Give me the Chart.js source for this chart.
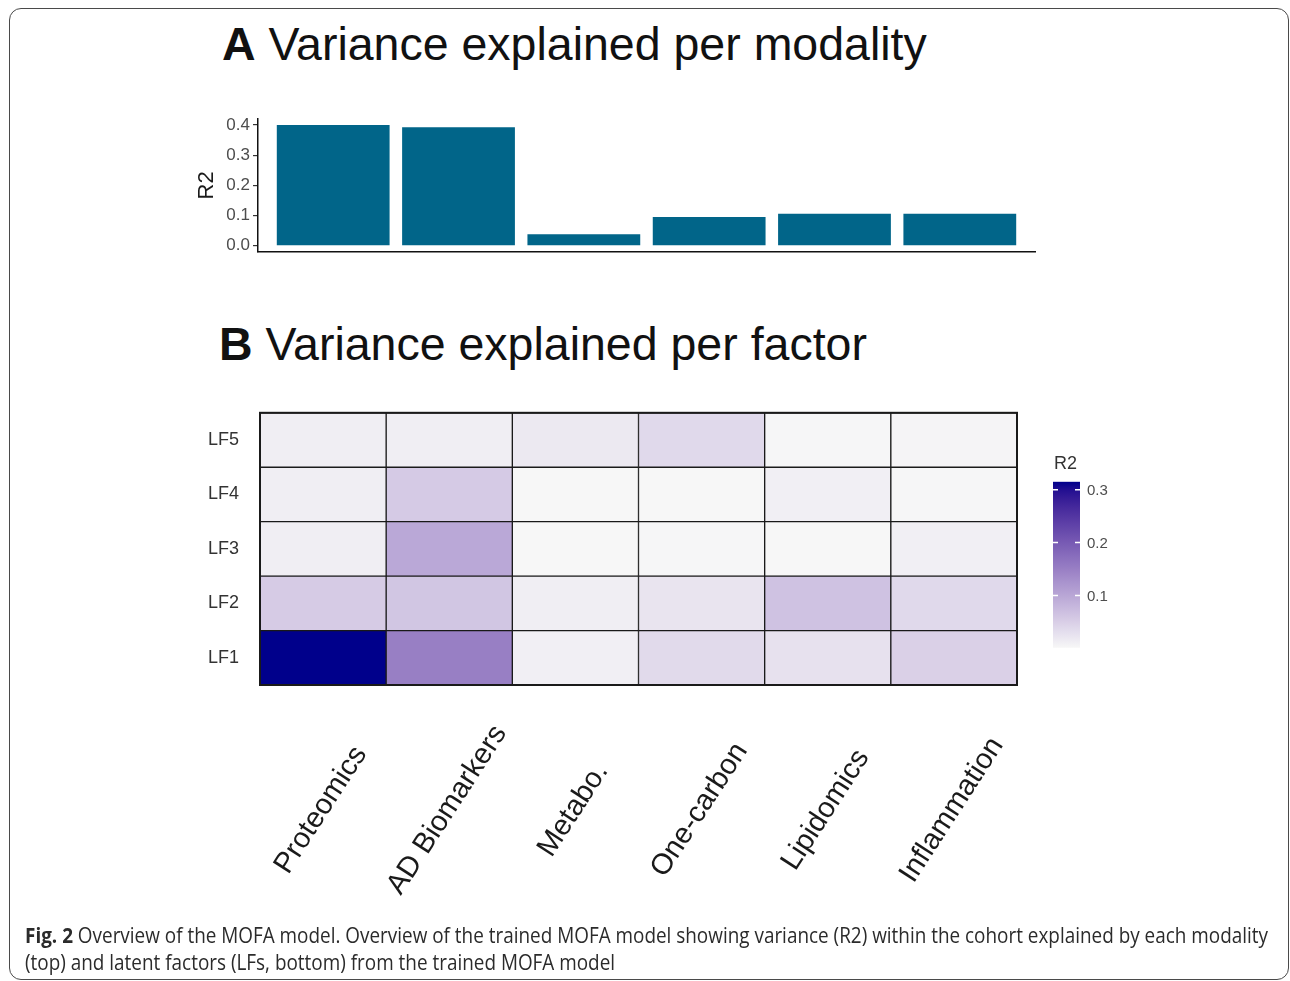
<!DOCTYPE html>
<html>
<head>
<meta charset="utf-8">
<script src="https://cdn.jsdelivr.net/npm/chart.js@4.4.1/dist/chart.umd.min.js"></script>
<style>
  body { margin: 0; background: #fff; width: 1290px; height: 981px; overflow: hidden; position: relative;
         font-family: 'Liberation Sans', Arial, sans-serif; }
  .frame { position: absolute; left: 9px; top: 8px; width: 1280px; height: 972px; box-sizing: border-box;
           border: 1.5px solid #4a4a4a; border-radius: 12px; }
  .title { position: absolute; font-size: 46.5px; line-height: 46px; color: #111; white-space: nowrap; }
  #boxA { position: absolute; left: 190px; top: 99px; width: 850px; height: 166px; }
  #boxB { position: absolute; left: 180px; top: 381px; width: 960px; height: 549px; }
  .cap { position: absolute; left: 25px; font-family: 'Open Sans', sans-serif; font-size: 21px; line-height: 27px;
         color: #2b2b2b; white-space: nowrap; transform-origin: 0 0; }
</style>
</head>
<body>
<div class="frame"></div>
<div class="title" style="left:222px; top:21px;"><b>A</b> Variance explained per modality</div>
<div class="title" style="left:219px; top:321px;"><b>B</b> Variance explained per factor</div>
<div id="boxA"><canvas id="chartA"></canvas></div>
<div id="boxB"><canvas id="chartB"></canvas></div>
<div class="cap" id="cap1" style="top:922px;"><b>Fig. 2</b> Overview of the MOFA model. Overview of the trained MOFA model showing variance (R2) within the cohort explained by each modality</div>
<div class="cap" id="cap2" style="top:949px;">(top) and latent factors (LFs, bottom) from the trained MOFA model</div>

<script>
// panel A: total R2 per modality
const modalities = ['Proteomics', 'AD Biomarkers', 'Metabo.', 'One-carbon', 'Lipidomics', 'Inflammation'];
const modalityR2 = [0.400, 0.393, 0.038, 0.095, 0.106, 0.106];
const yTicksA = [0, 0.1, 0.2, 0.3, 0.4];

// panel B: R2 per latent factor (columns follow modalities)
const factors = ['LF1', 'LF2', 'LF3', 'LF4', 'LF5'];
const lf1 = [0.315, 0.151, 0.011, 0.036, 0.027, 0.048];
const lf2 = [0.054, 0.061, 0.012, 0.024, 0.065, 0.037];
const lf3 = [0.012, 0.098, 0.001, 0.002, 0.001, 0.011];
const lf4 = [0.012, 0.055, 0.001, 0.001, 0.011, 0.002];
const lf5 = [0.012, 0.012, 0.018, 0.037, 0.002, 0.004];
const legendTicks = [0.1, 0.2, 0.3];

const cellRows = [lf1, lf2, lf3, lf4, lf5];
const allCells = cellRows.flat();
const vMin = Math.min(...allCells);
const vMax = Math.max(...allCells);

Chart.defaults.font.family = "'Liberation Sans', Arial, sans-serif";

// gray97 -> darkblue, interpolated in Lab like ggplot does
function toLin(c) { c /= 255; return c <= 0.04045 ? c / 12.92 : Math.pow((c + 0.055) / 1.055, 2.4); }
function toSrgb(v) {
  v = v <= 0.0031308 ? 12.92 * v : 1.055 * Math.pow(v, 1 / 2.4) - 0.055;
  return Math.round(Math.max(0, Math.min(1, v)) * 255);
}
const WX = 0.95047, WZ = 1.08883;
function rgb2lab(rgb) {
  const r = toLin(rgb[0]), g = toLin(rgb[1]), b = toLin(rgb[2]);
  const x = (0.4124 * r + 0.3576 * g + 0.1805 * b) / WX;
  const y = 0.2126 * r + 0.7152 * g + 0.0722 * b;
  const z = (0.0193 * r + 0.1192 * g + 0.9505 * b) / WZ;
  const f = t => t > 0.008856 ? Math.cbrt(t) : 7.787 * t + 16 / 116;
  const fx = f(x), fy = f(y), fz = f(z);
  return [116 * fy - 16, 500 * (fx - fy), 200 * (fy - fz)];
}
function lab2rgb(lab) {
  const fy = (lab[0] + 16) / 116, fx = fy + lab[1] / 500, fz = fy - lab[2] / 200;
  const fi = t => t * t * t > 0.008856 ? t * t * t : (t - 16 / 116) / 7.787;
  const x = fi(fx) * WX, y = fi(fy), z = fi(fz) * WZ;
  return [
    toSrgb(3.2406 * x - 1.5372 * y - 0.4986 * z),
    toSrgb(-0.9689 * x + 1.8758 * y + 0.0415 * z),
    toSrgb(0.0557 * x - 0.2040 * y + 1.0570 * z)
  ];
}
const lowLab = rgb2lab([247, 247, 247]);
const highLab = rgb2lab([0, 0, 139]);
function colorAt(t) {
  t = Math.max(0, Math.min(1, t));
  const c = lab2rgb(lowLab.map((l, i) => l + (highLab[i] - l) * t));
  return 'rgb(' + c.join(',') + ')';
}
function fillFor(v) { return colorAt((v - vMin) / (vMax - vMin)); }

// ---- panel A ----
new Chart(document.getElementById('chartA'), {
  type: 'bar',
  data: {
    datasets: [{
      data: modalityR2.map((v, i) => ({ x: i + 1, y: v })),
      backgroundColor: '#016589',
      borderWidth: 0,
      barPercentage: 0.9,
      categoryPercentage: 1
    }]
  },
  options: {
    responsive: true,
    maintainAspectRatio: false,
    animation: false,
    layout: { padding: { top: 20, right: 5, bottom: 12, left: 0 } },
    plugins: { legend: { display: false }, tooltip: { enabled: false } },
    scales: {
      x: {
        type: 'linear', min: 0.4, max: 6.6, offset: false,
        afterBuildTicks(s) { s.ticks = modalities.map((m, i) => ({ value: i + 1 })); },
        ticks: { display: false },
        grid: { display: false, drawTicks: false },
        border: { display: true, color: '#111', width: 1.5 },
        afterFit(s) { s.height = 0; }
      },
      y: {
        min: -0.02, max: 0.42,
        afterBuildTicks(s) { s.ticks = yTicksA.map(v => ({ value: v })); },
        ticks: { callback: v => v.toFixed(1), color: '#4d4d4d', font: { size: 17 }, padding: 3 },
        grid: { drawOnChartArea: false, drawTicks: true, tickLength: 5, color: '#333', lineWidth: 1.2 },
        border: { display: true, color: '#111', width: 1.5 },
        title: { display: true, text: 'R2', color: '#1a1a1a', font: { size: 22 }, padding: { top: 4, bottom: 0 } },
        afterFit(s) { s.width = 68; }
      }
    }
  }
});

// ---- panel B ----
const heatExtras = {
  id: 'heatExtras',
  afterDraw(chart) {
    const ctx = chart.ctx, area = chart.chartArea, xs = chart.scales.x;
    ctx.save();
    // outer frame
    ctx.strokeStyle = '#1a1a1a';
    ctx.lineWidth = 2;
    ctx.strokeRect(area.left, area.top, area.right - area.left, area.bottom - area.top);

    // rotated modality labels, centred under each column
    ctx.font = "29px 'Liberation Sans', Arial, sans-serif";
    ctx.fillStyle = '#1a1a1a';
    ctx.textAlign = 'center';
    ctx.textBaseline = 'middle';
    modalities.forEach((m, i) => {
      ctx.save();
      ctx.translate(xs.getPixelForValue(i) - 2, area.bottom + 125);
      ctx.rotate(-57 * Math.PI / 180);
      ctx.fillText(m, 0, 0);
      ctx.restore();
    });

    // colour bar legend
    const lx = area.right + 36, ly = area.top + 69, lw = 27, lh = 166;
    const grad = ctx.createLinearGradient(0, ly + lh, 0, ly);
    for (let k = 0; k <= 20; k++) grad.addColorStop(k / 20, colorAt(k / 20));
    ctx.fillStyle = grad;
    ctx.fillRect(lx, ly, lw, lh);
    ctx.font = "18px 'Liberation Sans', Arial, sans-serif";
    ctx.fillStyle = '#333';
    ctx.textAlign = 'left';
    ctx.textBaseline = 'alphabetic';
    ctx.fillText('R2', lx + 1, ly - 13);
    ctx.font = "15px 'Liberation Sans', Arial, sans-serif";
    ctx.textBaseline = 'middle';
    ctx.strokeStyle = '#fff';
    ctx.lineWidth = 1.5;
    legendTicks.forEach(v => {
      const y = ly + lh - (v - vMin) / (vMax - vMin) * lh;
      ctx.beginPath();
      ctx.moveTo(lx, y); ctx.lineTo(lx + 5, y);
      ctx.moveTo(lx + lw - 5, y); ctx.lineTo(lx + lw, y);
      ctx.stroke();
      ctx.fillStyle = '#4d4d4d';
      ctx.fillText(v.toFixed(1), lx + lw + 7, y + 1);
    });
    ctx.restore();
  }
};

new Chart(document.getElementById('chartB'), {
  type: 'bar',
  data: {
    labels: modalities,
    datasets: factors.map((f, i) => ({
      label: f,
      data: modalities.map(() => [i, i + 1]),
      backgroundColor: cellRows[i].map(fillFor),
      borderColor: '#1a1a1a',
      borderWidth: 1,
      borderSkipped: false,
      barPercentage: 1,
      categoryPercentage: 1,
      grouped: false
    }))
  },
  options: {
    responsive: true,
    maintainAspectRatio: false,
    animation: false,
    layout: { padding: { top: 20, right: 123, bottom: 0, left: 0 } },
    plugins: { legend: { display: false }, tooltip: { enabled: false } },
    scales: {
      x: {
        type: 'category', offset: true,
        ticks: { display: false },
        grid: { display: false, drawTicks: false },
        border: { display: false },
        afterFit(s) { s.height = 245; }
      },
      y: {
        min: 0, max: 5,
        afterBuildTicks(s) { s.ticks = factors.map((f, i) => ({ value: i + 0.5 })); },
        ticks: { callback: v => factors[Math.floor(v)], color: '#333', font: { size: 18 }, padding: 21 },
        grid: { display: false, drawTicks: false },
        border: { display: false },
        afterFit(s) { s.width = 80; }
      }
    }
  },
  plugins: [heatExtras]
});

// squeeze caption lines to the width of the original
const cap1 = document.getElementById('cap1'), cap2 = document.getElementById('cap2');
const k = 1243 / cap1.getBoundingClientRect().width;
cap1.style.transform = 'scaleX(' + k + ')';
cap2.style.transform = 'scaleX(' + k + ')';
</script>
</body>
</html>
